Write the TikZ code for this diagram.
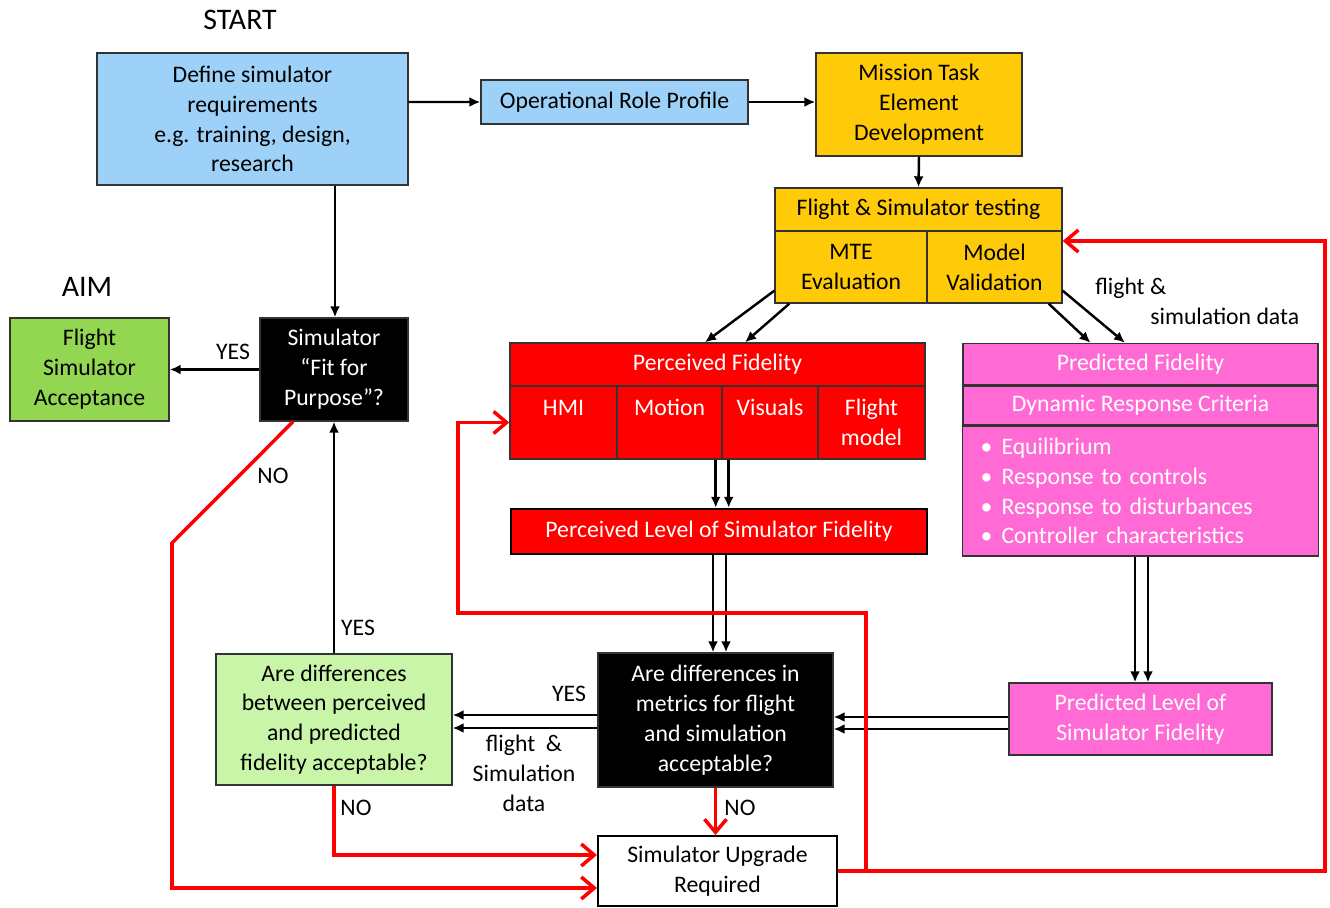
\documentclass[tikz,border=0pt]{standalone}
\usepackage{fontspec}
\setmainfont{Carlito}
\usetikzlibrary{arrows.meta, positioning, calc}
\definecolor{mBlue}{HTML}{9DD1F7}
\definecolor{mGold}{HTML}{FFCA08}
\definecolor{mRed}{HTML}{FF0000}
\definecolor{mPink}{HTML}{FF6AD5}
\definecolor{mGreen}{HTML}{92D652}
\definecolor{mLime}{HTML}{C8F5A8}

\begin{document}
\begin{tikzpicture}[x=0.02cm, y=-0.02cm,
    every node/.style={font=\fontsize{13.5}{17}\selectfont},
    box/.style={draw=black!80, line width=0.8pt, align=center, inner sep=1pt},
    arr/.style={line width=1.4pt, -{Latex[length=2.2mm,width=2mm]}},
    redarr/.style={draw=mRed, line width=2pt, -{Straight Barb[length=2.6mm,width=4.4mm]}}]
  \useasboundingbox (0,0) rectangle (1330,908);

  % headings
  \node[font=\fontsize{17}{20}\selectfont] (start) at (240,20) {START};
  \node[font=\fontsize{17}{20}\selectfont] (aim) at (87,287) {AIM};

  % top row
  \node[box, fill=mBlue, minimum width=6.22cm, minimum height=2.64cm] (define) at (252.5,119)
    {Define simulator\\requirements\\e.g. training, design,\\research};
  \node[box, fill=mBlue, minimum width=5.34cm, minimum height=0.88cm] (orp) at (614.5,102)
    {Operational Role Profile};
  \node[box, fill=mGold, minimum width=4.12cm, minimum height=2.06cm] (mted) at (919,104.5)
    {Mission Task\\Element\\Development};

  % flight & simulator testing
  \node[box, fill=mGold, minimum width=5.74cm, minimum height=0.86cm] (fst) at (918.5,209.5)
    {Flight \& Simulator testing};
  \node[box, fill=mGold, minimum width=3.04cm, minimum height=1.44cm] (mte) at (851,267)
    {MTE\\Evaluation};
  \node[box, fill=mGold, minimum width=2.70cm, minimum height=1.44cm] (modval) at (994.5,267)
    {Model\\Validation};

  % aim and decision
  \node[box, fill=mGreen, minimum width=3.18cm, minimum height=2.06cm] (fsa) at (89.5,369.5)
    {Flight\\Simulator\\Acceptance};
  \node[box, fill=black, text=white, minimum width=2.96cm, minimum height=2.06cm] (fit) at (334,369.5)
    {Simulator\\“Fit for\\Purpose”?};

  % perceived fidelity
  \node[box, fill=mRed, text=white, minimum width=8.30cm, minimum height=0.86cm] (pf) at (717.5,364.5)
    {Perceived Fidelity};
  \foreach \nm/\cx/\w/\txt in
    {hmi/563.5/2.14/{HMI\\\phantom{model}}, motion/669.5/2.10/{Motion\\\phantom{model}},
     visuals/770/1.92/{Visuals\\\phantom{model}}, fmodel/871.5/2.14/{Flight\\model}} {
    \node[box, fill=mRed, text=white, minimum width=\w cm, minimum height=1.46cm] (\nm) at (\cx,422.5) {\txt};
  }
  \node[box, fill=mRed, text=white, draw=black, line width=1.4pt, minimum width=8.32cm, minimum height=0.90cm]
    (plsf) at (719,531.5) {Perceived Level of Simulator Fidelity};

  % predicted fidelity
  \node[box, fill=mPink, text=white, minimum width=7.10cm, minimum height=0.82cm] (pdf) at (1140.5,364)
    {Predicted Fidelity};
  \node[box, fill=mPink, text=white, minimum width=7.10cm, minimum height=0.78cm] (drc) at (1140.5,405.5)
    {Dynamic Response Criteria};
  \node[box, fill=mPink, text=white, minimum width=7.10cm, minimum height=2.60cm, align=left,
        text width=6.4cm, inner xsep=0.36cm] (crit) at (1140.5,491)
    {\makebox[0.42cm][l]{\textbullet}Equilibrium\\
     \makebox[0.42cm][l]{\textbullet}Response to controls\\
     \makebox[0.42cm][l]{\textbullet}Response to disturbances\\
     \makebox[0.42cm][l]{\textbullet}Controller characteristics};
  \node[box, fill=mPink, text=white, minimum width=5.26cm, minimum height=1.44cm] (pdlsf) at (1140.5,719)
    {Predicted Level of\\Simulator Fidelity};

  % bottom row
  \node[box, fill=black, text=white, minimum width=4.70cm, minimum height=2.68cm] (metrics) at (715.5,720)
    {Are differences in\\metrics for flight\\and simulation\\acceptable?};
  \node[box, fill=mLime, minimum width=4.72cm, minimum height=2.62cm] (accept) at (334,719.5)
    {Are differences\\between perceived\\and predicted\\fidelity acceptable?};
  \node[box, fill=white, draw=black, line width=1.2pt, minimum width=4.78cm, minimum height=1.40cm]
    (upgrade) at (717.5,871) {Simulator Upgrade\\Required};

  % labels
  \node (yesfsa) at (233,352) {YES};
  \node (nofit) at (273,476) {NO};
  \node (yesfit) at (358,628) {YES};
  \node (noacc) at (356,808) {NO};
  \node (nomet) at (740,808) {NO};
  \node (yesmet) at (569,694) {YES};
  \node[align=center] (datal) at (524,773) {flight \ \&\\Simulation\\data};
  \node[align=left, anchor=north west, inner sep=0pt] (datar) at (1095,278)
    {flight \&\\\hspace*{1.1cm}simulation data};

  % black connectors
  \draw[arr] ([yshift=0.34cm]define.east) -- (orp.west);
  \draw[arr] (orp.east) -- (orp.east -| mted.west);
  \draw[arr] (mted.south) -- (fst.north);
  \draw[arr] ([xshift=1.65cm]define.south) -- ([xshift=1.65cm]define.south |- fit.north);
  \draw[arr] (fit.west) -- (fsa.east);
  \draw[arr] (accept.north) -- (fit.south);
  \draw[arr] ([yshift=0.26cm]mte.south west) -- ([xshift=-0.25cm]pf.north);
  \draw[arr] ([xshift=0.3cm]mte.south west) -- ([xshift=0.55cm]pf.north);
  \draw[arr] ([yshift=0.26cm]modval.south east) -- ([xshift=-0.31cm]pdf.north);
  \draw[arr] ([xshift=-0.28cm]modval.south east) -- ([xshift=-1.0cm]pdf.north);
  \foreach \dx in {-0.14, 0.12} {
    \draw[arr] ([xshift=\dx cm]motion.south east) -- ([xshift=\dx cm]motion.south east |- plsf.north);
  }
  \foreach \dx in {-0.12, 0.14} {
    \draw[arr] ([xshift=\dx cm]plsf.south) -- ([xshift=\dx cm]plsf.south |- metrics.north);
  }
  \foreach \dx in {-0.11, 0.15} {
    \draw[arr] ([xshift=\dx cm]crit.south) -- ([xshift=\dx cm]crit.south |- pdlsf.north);
  }
  \foreach \dy in {0.04, -0.2} {
    \draw[arr] ([yshift=\dy cm]pdlsf.west) -- ([yshift=\dy cm]pdlsf.west -| metrics.east);
  }
  \foreach \dy in {0.1, -0.16} {
    \draw[arr] ([yshift=\dy cm]metrics.west) -- ([yshift=\dy cm]metrics.west -| accept.east);
  }

  % red connectors
  \coordinate (nobend) at (172,543);
  \coordinate (rcorner) at (1325,875);
  \coordinate (tap) at (866,871);
  \coordinate (lcorner) at (458,613);
  \draw[redarr] (metrics.south) -- (metrics.south |- upgrade.north);
  \draw[redarr] (accept.south) |- ([yshift=0.32cm]upgrade.west);
  \draw[redarr] ([xshift=-0.82cm]fit.south) -- (nobend) -- ([yshift=-0.34cm]upgrade.west -| nobend)
    -- ([yshift=-0.34cm]upgrade.west);
  \draw[redarr] (upgrade.east) -- (upgrade.east -| rcorner) |- ([yshift=0.52cm]modval.east);
  \draw[redarr] (tap) |- (lcorner) |- (hmi.west);
\end{tikzpicture}
\end{document}
